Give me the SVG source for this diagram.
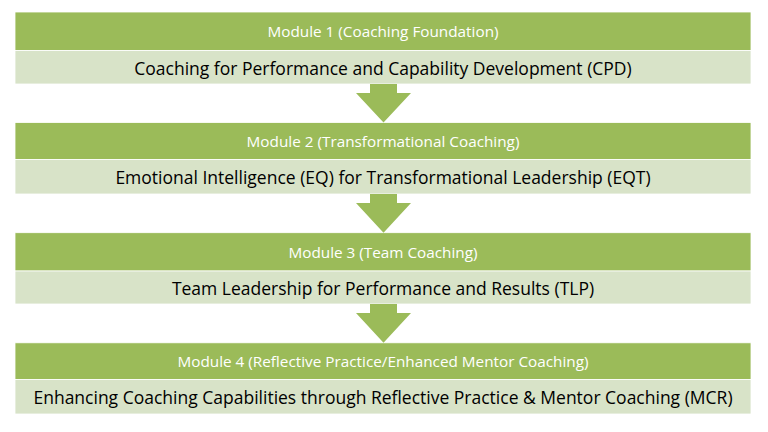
<svg xmlns="http://www.w3.org/2000/svg" width="768" height="432" viewBox="0 0 768 432">
<style>
.hdr{fill:#9BBB59;stroke:#ffffff;stroke-width:0.8}
.bdy{fill:#D8E3C8;stroke:#ffffff;stroke-width:0.8}
.ht{font-family:"Open Sans","Liberation Sans",sans-serif;font-size:15.3px;fill:#ffffff;text-anchor:middle;dominant-baseline:central}
.bt{font-family:"Open Sans","Liberation Sans",sans-serif;font-size:17.5px;fill:#000000;text-anchor:middle;dominant-baseline:central}
.arr{fill:#9BBB59}
</style>
<rect width="768" height="432" fill="#ffffff"/>
<g id="module1">
<rect class="hdr" x="15" y="12" width="736" height="38.5"/>
<rect class="bdy" x="15" y="50.5" width="736" height="33.5"/>
<text class="ht" x="383" y="31">Module 1 (Coaching Foundation)</text>
<text class="bt" x="383" y="67.5">Coaching for Performance and Capability Development (CPD)</text>
</g>
<g id="module2">
<rect class="hdr" x="15" y="122.5" width="736" height="37"/>
<rect class="bdy" x="15" y="159.5" width="736" height="34.5"/>
<text class="ht" x="383" y="141">Module 2 (Transformational Coaching)</text>
<text class="bt" x="383" y="177">Emotional Intelligence (EQ) for Transformational Leadership (EQT)</text>
</g>
<g id="module3">
<rect class="hdr" x="15" y="232.7" width="736" height="38.3"/>
<rect class="bdy" x="15" y="271" width="736" height="33"/>
<text class="ht" x="383" y="251.5">Module 3 (Team Coaching)</text>
<text class="bt" x="383" y="287.5">Team Leadership for Performance and Results (TLP)</text>
</g>
<g id="module4">
<rect class="hdr" x="15" y="342.8" width="736" height="36.7"/>
<rect class="bdy" x="15" y="379.5" width="736" height="34.5"/>
<text class="ht" x="383" y="361">Module 4 (Reflective Practice/Enhanced Mentor Coaching)</text>
<text class="bt" x="383" y="397">Enhancing Coaching Capabilities through Reflective Practice &amp; Mentor Coaching (MCR)</text>
</g>
<g id="connectors">
<polygon class="arr" points="370,84 397,84 397,93 411,93 383.5,122.5 356,93 370,93"/>
<polygon class="arr" points="370,194 397,194 397,203 411,203 383.5,232.7 356,203 370,203"/>
<polygon class="arr" points="370,304 397,304 397,313 411,313 383.5,342.8 356,313 370,313"/>
</g>
</svg>
